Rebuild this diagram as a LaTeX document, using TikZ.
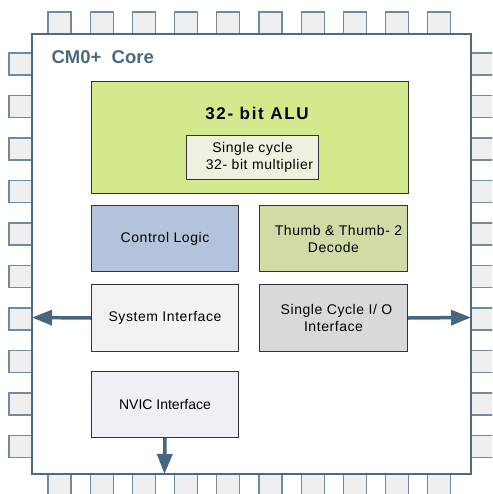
\documentclass[tikz,border=0pt]{standalone}
\usepackage{fontspec}
\setmainfont{Liberation Sans}
\newfontfamily\widesans[LetterSpace=4]{Liberation Sans}
\newfontfamily\widersans[LetterSpace=10]{Liberation Sans}
\usetikzlibrary{arrows.meta}
\definecolor{pinedge}{HTML}{6F8BA0}
\definecolor{pinfill}{HTML}{EFEFEF}
\definecolor{coreedge}{HTML}{4C6B82}
\definecolor{titleblue}{HTML}{4A6A80}
\definecolor{arrowblue}{HTML}{46677F}
\definecolor{boxedge}{HTML}{333333}
\definecolor{alufill}{HTML}{D4E98E}
\definecolor{multfill}{HTML}{EEF1E0}
\definecolor{ctrlfill}{HTML}{B3C3DC}
\definecolor{thumbfill}{HTML}{D0DCA6}
\definecolor{sysfill}{HTML}{F2F2F2}
\definecolor{iofill}{HTML}{D9D9D9}
\definecolor{nvicfill}{HTML}{EEF0F5}
\tikzset{
  unitbox/.style={draw=boxedge, line width=1pt, inner sep=0pt, anchor=north west,
    minimum width=147pt, minimum height=66pt, align=center,
    font=\widesans\fontsize{14}{17}\selectfont},
  busarrow/.style={draw=arrowblue, line width=3.5pt, -{Triangle[length=20pt,width=15pt]}},
  pin/.style={draw=pinedge, fill=pinfill, line width=1.2pt}
}

\begin{document}
\begin{tikzpicture}[x=1pt,y=-1pt]
			%%%%% START %%%%%
			\useasboundingbox (0,0) rectangle (492,494);
			\clip (0,0) rectangle (492,494);
			
			% pins
			\foreach \i in {0,...,9}{
				\draw[pin] ({48+42.2*\i},12) rectangle ++(23,22);
				\draw[pin] ({48+42.2*\i},474) rectangle ++(23,24);
				\draw[pin] (9,{53+42.5*\i}) rectangle ++(23,22);
				\draw[pin] (471,{53+42.5*\i}) rectangle ++(25,22);
			}
			
			% core
			\draw[draw=coreedge, fill=white, line width=1.5pt] (32,34) rectangle (471,474);
			\node[anchor=base west, text=titleblue, font=\bfseries\fontsize{18.5}{20}\selectfont] (coretitle) at (48,64) {CM0+\ \ Core};
			
			\coordinate (leftedge) at (32,317.5);
			\coordinate (rightedge) at (471,317.5);
			\coordinate (bottomedge) at (164.5,474);
			
			% units
			\node[unitbox, fill=alufill, minimum width=317pt, minimum height=112pt] (alu) at (91,81) {};
			\node[anchor=base, font=\widersans\bfseries\fontsize{17}{20}\selectfont] (alutitle) at (257,120) {32- bit ALU};
			\node[unitbox, fill=multfill, minimum width=132pt, minimum height=44pt] (mult) at (186,135) {Single cycle\\ \hspace*{14pt}32- bit multiplier};
			
			\node[unitbox, fill=ctrlfill] (ctrl) at (91,205) {Control Logic};
			\node[unitbox, fill=thumbfill, minimum width=148pt] (thumb) at (259,205) {\hspace*{10pt}Thumb \& Thumb- 2\\ Decode};
			\node[unitbox, fill=sysfill, minimum height=67pt] (sysif) at (91,284) {System Interface};
			\node[unitbox, fill=iofill, minimum width=148pt, minimum height=67pt] (ioif) at (259,284) {\hspace*{6pt}Single Cycle I/ O\\ Interface};
			\node[unitbox, fill=nvicfill, font=\fontsize{14}{17}\selectfont] (nvic) at (91,371) {NVIC Interface};
			
			% buses
			\draw[busarrow] (sysif.west) -- (leftedge);
			\draw[busarrow] (ioif.east) -- (rightedge);
			\draw[busarrow] (nvic.south) -- (bottomedge);
			%%%%% END %%%%%
\end{tikzpicture}
\end{document}
